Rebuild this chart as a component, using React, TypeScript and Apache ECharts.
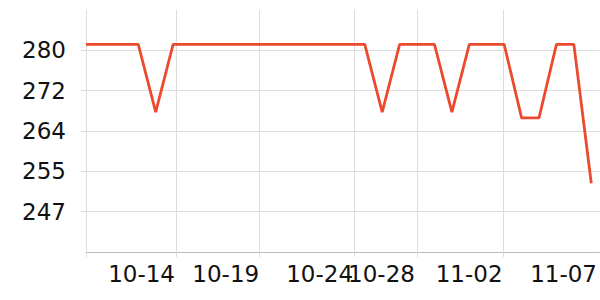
import React, { useEffect, useRef } from 'react';
import * as echarts from 'echarts';

const dates = [
  '10-09', '10-10', '10-11', '10-12', '10-13', '10-14', '10-15', '10-16', '10-17', '10-18',
  '10-19', '10-20', '10-21', '10-22', '10-23', '10-24', '10-25', '10-26', '10-27', '10-28',
  '10-29', '10-30', '10-31', '11-01', '11-02', '11-03', '11-04', '11-05', '11-06', '11-07',
];
const values = [
  281.5, 281.5, 281.5, 281.5, 267.5, 281.5, 281.5, 281.5, 281.5, 281.5,
  281.5, 281.5, 281.5, 281.5, 281.5, 281.5, 281.5, 267.5, 281.5, 281.5,
  281.5, 267.5, 281.5, 281.5, 281.5, 266.3, 266.3, 281.5, 281.5, 252.8,
];

// x-axis: grid/tick positions and label positions (in day-index units)
const xGridValues = [0, 5.17, 9.95, 15.38, 18.99, 23.97];
const xLabelValues = [3.19, 8.02, 13.41, 16.96, 21.99, 27.41];
const xTickLabels = ['10-14', '10-19', '10-24', '10-28', '11-02', '11-07'];

// y-axis
const yMin = 238.6;
const yMax = 288.6;
const yTickValues = [246.93, 255.27, 263.6, 271.93, 280.27];
const yTickLabels = ['247', '255', '264', '272', '280'];

export default function App() {
  const ref = useRef<HTMLDivElement>(null);
  useEffect(() => {
    if (!ref.current) return;
    const chart = echarts.init(ref.current, undefined, { renderer: 'svg' });
    const font = 'DejaVu Sans';
    chart.setOption({
      animation: false,
      grid: { left: 86, right: 0, top: 10, bottom: 48, containLabel: false },
      xAxis: {
        type: 'value',
        min: 0,
        max: 29.46,
        axisLine: { show: true, lineStyle: { color: '#bbbbbb', width: 1 } },
        axisTick: { show: true, length: 5, customValues: xGridValues, lineStyle: { color: '#dddddd' } },
        splitLine: { show: true, lineStyle: { color: '#dddddd', width: 1 } },
        axisLabel: {
          customValues: xLabelValues,
          fontFamily: font,
          fontSize: 23,
          color: '#111',
          margin: 10,
          formatter: (v: number) => {
            let best = 0;
            for (let i = 0; i < xLabelValues.length; i++) {
              if (Math.abs(xLabelValues[i] - v) < Math.abs(xLabelValues[best] - v)) best = i;
            }
            return xTickLabels[best];
          },
        },
      },
      yAxis: {
        type: 'value',
        min: yMin,
        max: yMax,
        axisLine: { show: true, lineStyle: { color: '#dddddd', width: 1 } },
        axisTick: { show: true, length: 5, customValues: yTickValues, lineStyle: { color: '#dddddd' } },
        splitLine: { show: true, lineStyle: { color: '#dddddd', width: 1 } },
        axisLabel: {
          customValues: yTickValues,
          fontFamily: font,
          fontSize: 23,
          color: '#111',
          margin: 20,
          formatter: (v: number) => {
            let best = 0;
            for (let i = 0; i < yTickValues.length; i++) {
              if (Math.abs(yTickValues[i] - v) < Math.abs(yTickValues[best] - v)) best = i;
            }
            return yTickLabels[best];
          },
        },
      },
      series: [
        {
          type: 'line',
          name: 'value',
          data: values.map((v, i) => [i, v, dates[i]]),
          showSymbol: false,
          symbol: 'none',
          lineStyle: { color: '#eb4a2e', width: 2.8 },
          itemStyle: { color: '#eb4a2e' },
        },
      ],
    });
    return () => chart.dispose();
  }, []);
  return (
    <div
      ref={ref}
      style={{ position: 'absolute', left: 0, top: 0, width: 600, height: 300 }}
    />
  );
}
